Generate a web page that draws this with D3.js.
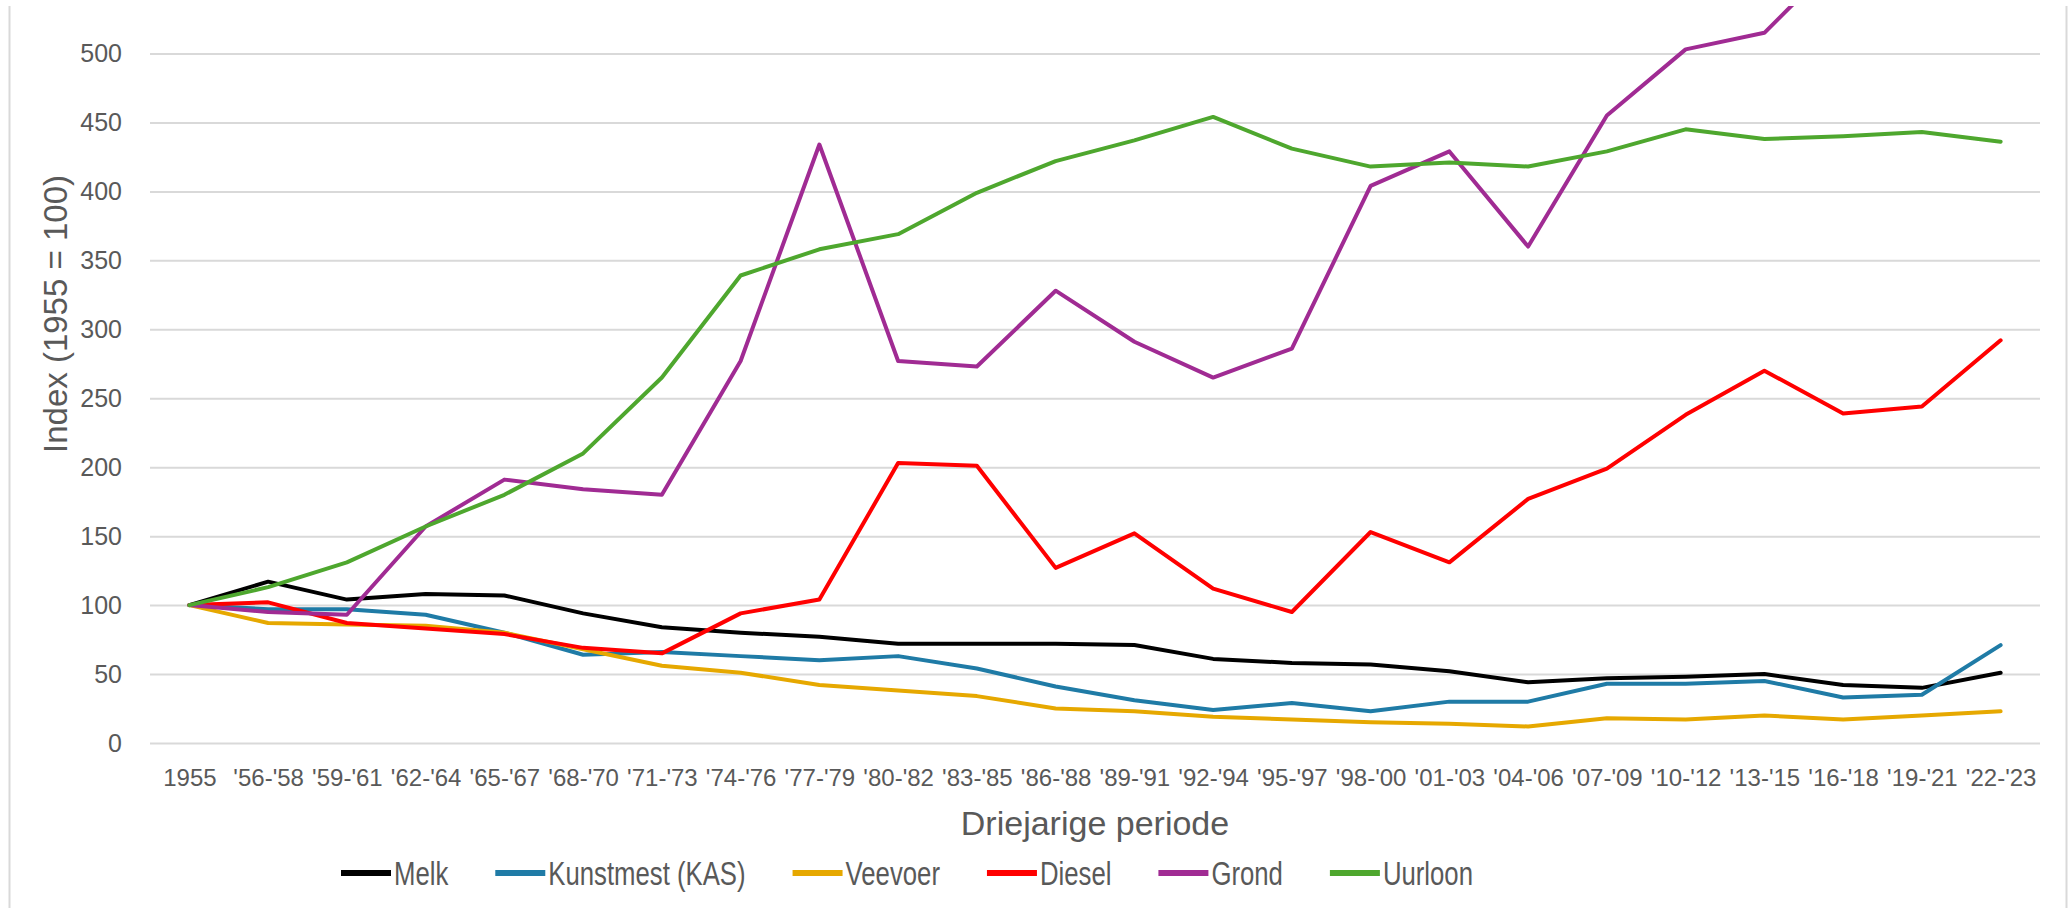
<!DOCTYPE html>
<html>
<head>
<meta charset="utf-8">
<script src="https://cdn.jsdelivr.net/npm/d3@7/dist/d3.min.js"></script>
<style>
  body { margin: 0; background: #fff; }
  svg { display: block; font-family: 'Liberation Sans', Arial, sans-serif; }
  .axis text { fill: #595959; }
  .title { fill: #595959; }
  .legend text { fill: #595959; }
</style>
</head>
<body>
<svg id="chart"></svg>
<script>
'use strict';

/* Driejarige perioden */
var periods = ['1955', "'56-'58", "'59-'61", "'62-'64", "'65-'67", "'68-'70",
  "'71-'73", "'74-'76", "'77-'79", "'80-'82", "'83-'85", "'86-'88", "'89-'91",
  "'92-'94", "'95-'97", "'98-'00", "'01-'03", "'04-'06", "'07-'09", "'10-'12",
  "'13-'15", "'16-'18", "'19-'21", "'22-'23"];

/* Index values, 1955 = 100 */
var melk = [100, 117, 104, 108, 107, 94, 84, 80, 77, 72, 72, 72, 71, 61,
  58, 57, 52, 44, 47, 48, 50, 42, 40, 51];
var kunstmest = [100, 97, 97, 93, 80, 64, 66, 63, 60, 63, 54, 41, 31, 24,
  29, 23, 30, 30, 43, 43, 45, 33, 35, 71];
var veevoer = [100, 87, 86, 85, 80, 68, 56, 51, 42, 38, 34, 25, 23, 19,
  17, 15, 14, 12, 18, 17, 20, 17, 20, 23];
var diesel = [100, 102, 87, 83, 79, 69, 65, 94, 104, 203, 201, 127, 152, 112,
  95, 153, 131, 177, 199, 238, 270, 239, 244, 292];
var grond = [100, 95, 93, 157, 191, 184, 180, 277, 434, 277, 273, 328, 291, 265,
  286, 404, 429, 360, 455, 503, 515, 572, 595, 630];
var uurloon = [100, 113, 131, 157, 180, 210, 265, 339, 358, 369, 399, 422, 437, 454,
  431, 418, 421, 418, 429, 445, 438, 440, 443, 436];

var yTicks = [0, 50, 100, 150, 200, 250, 300, 350, 400, 450, 500];

var seriesNames = ['Melk', 'Kunstmest (KAS)', 'Veevoer', 'Diesel', 'Grond', 'Uurloon'];
var seriesValues = [melk, kunstmest, veevoer, diesel, grond, uurloon];
var seriesColors = ['#000000', '#1f7ba6', '#e6a800', '#ff0000', '#a02b93', '#4ea72e'];

var width = 2072;
var height = 908;
var plot = { left: 150, right: 2040, top: 6, bottom: 743 };

var svg = d3.select('#chart')
  .attr('width', width)
  .attr('height', height);

svg.append('rect')
  .attr('width', width)
  .attr('height', height)
  .attr('fill', '#fff');

/* chart frame, only the sides are visible */
svg.append('line')
  .attr('x1', 9.5).attr('x2', 9.5).attr('y1', 6).attr('y2', height)
  .attr('stroke', '#d9d9d9').attr('stroke-width', 2);
svg.append('line')
  .attr('x1', 2066.5).attr('x2', 2066.5).attr('y1', 6).attr('y2', height)
  .attr('stroke', '#d9d9d9').attr('stroke-width', 2);

var x = d3.scalePoint()
  .domain(periods)
  .range([plot.left, plot.right])
  .padding(0.5);

var y = d3.scaleLinear()
  .domain([0, 500])
  .range([plot.bottom, 53.5]);

/* y axis with grid */
var gY = svg.append('g')
  .attr('class', 'axis y')
  .attr('transform', 'translate(' + plot.left + ',0)')
  .call(d3.axisLeft(y)
    .tickValues(yTicks)
    .tickSize(-(plot.right - plot.left))
    .tickPadding(28));
gY.select('.domain').remove();
gY.selectAll('.tick line')
  .attr('stroke', '#d9d9d9')
  .attr('stroke-width', 2);
gY.selectAll('.tick text')
  .style('font-size', '25px');

/* x axis */
var gX = svg.append('g')
  .attr('class', 'axis x')
  .attr('transform', 'translate(0,' + plot.bottom + ')')
  .call(d3.axisBottom(x).tickSize(0).tickPadding(26));
gX.select('.domain').remove();
gX.selectAll('.tick text')
  .style('font-size', '24px');

/* axis titles */
svg.append('text')
  .attr('class', 'title')
  .attr('x', (plot.left + plot.right) / 2)
  .attr('y', 835)
  .attr('text-anchor', 'middle')
  .style('font-size', '34px')
  .text('Driejarige periode');

svg.append('text')
  .attr('class', 'title')
  .attr('transform', 'translate(67,314) rotate(-90)')
  .attr('text-anchor', 'middle')
  .style('font-size', '33px')
  .text('Index (1955 = 100)');

/* lines, clipped at the top of the picture */
svg.append('clipPath')
  .attr('id', 'clip')
  .append('rect')
  .attr('x', 0).attr('y', plot.top)
  .attr('width', width).attr('height', height - plot.top);

var line = d3.line()
  .x(function(d, i) { return x(periods[i]); })
  .y(function(d) { return y(d); });

svg.append('g')
  .attr('clip-path', 'url(#clip)')
  .selectAll('path')
  .data(seriesValues)
  .enter().append('path')
    .attr('d', line)
    .attr('fill', 'none')
    .attr('stroke', function(d, i) { return seriesColors[i]; })
    .attr('stroke-width', 4)
    .attr('stroke-linejoin', 'round')
    .attr('stroke-linecap', 'round');

/* legend, text is narrow in the original */
var narrow = 0.78;
var legend = svg.append('g').attr('class', 'legend');
var items = legend.selectAll('g')
  .data(seriesNames)
  .enter().append('g');
items.append('line')
  .attr('x1', 0).attr('x2', 50)
  .attr('y1', 0).attr('y2', 0)
  .attr('stroke', function(d, i) { return seriesColors[i]; })
  .attr('stroke-width', 6);
items.append('text')
  .attr('transform', 'translate(53,0) scale(' + narrow + ',1)')
  .attr('dy', '0.35em')
  .style('font-size', '33px')
  .text(function(d) { return d; });

var legendLeft = 341;
var legendRight = 1473;
var widths = [];
items.each(function() {
  widths.push(53 + narrow * d3.select(this).select('text').node().getComputedTextLength());
});
var gap = (legendRight - legendLeft - d3.sum(widths)) / (widths.length - 1);
var cursor = legendLeft;
items.each(function(d, i) {
  d3.select(this).attr('transform', 'translate(' + cursor + ',873)');
  cursor += widths[i] + gap;
});
</script>
</body>
</html>
